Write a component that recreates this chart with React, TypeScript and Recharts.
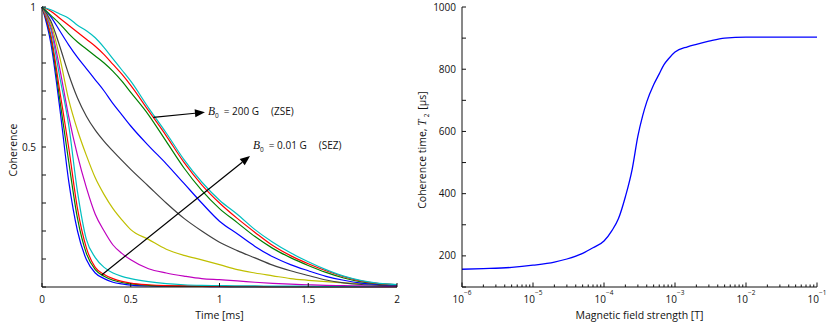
import React from "react";
import { LineChart, Line, XAxis, YAxis, ReferenceLine } from "recharts";

const FONT = "'Open Sans', 'DejaVu Sans', sans-serif";
const INK = "#111";

// ---- left panel: coherence vs time, one curve per field ----
const timeMs = [0, 0.05, 0.1, 0.15, 0.2, 0.25, 0.3, 0.35, 0.4, 0.45, 0.5, 0.6, 0.7, 0.8, 0.9, 1.0, 1.1, 1.2, 1.3, 1.4, 1.5, 1.6, 1.7, 1.8, 1.9, 2.0];

const cohBlue1 = [1, 0.87, 0.64, 0.38, 0.2, 0.098, 0.05, 0.03, 0.017, 0.011, 0.007, 0.004, 0.003, 0.002, 0.002, 0.001, 0.001, 0.001, 0.001, 0.001, 0.001, 0.001, 0.001, 0.001, 0.001, 0.001];
const cohGreen1 = [1, 0.89, 0.67, 0.45, 0.245, 0.12, 0.062, 0.038, 0.024, 0.016, 0.011, 0.006, 0.004, 0.003, 0.002, 0.002, 0.001, 0.001, 0.001, 0.001, 0.001, 0.001, 0.001, 0.001, 0.001, 0.001];
const cohRed1 = [1, 0.9, 0.7, 0.5, 0.28, 0.14, 0.07, 0.045, 0.03, 0.02, 0.014, 0.008, 0.005, 0.004, 0.003, 0.002, 0.002, 0.002, 0.001, 0.001, 0.001, 0.001, 0.001, 0.001, 0.001, 0.001];
const cohCyan1 = [1, 0.92, 0.75, 0.58, 0.34, 0.17, 0.105, 0.07, 0.05, 0.038, 0.03, 0.019, 0.012, 0.008, 0.006, 0.005, 0.004, 0.004, 0.003, 0.003, 0.003, 0.002, 0.002, 0.002, 0.002, 0.002];
const cohMagenta = [1, 0.93, 0.78, 0.61, 0.47, 0.355, 0.26, 0.2, 0.15, 0.12, 0.097, 0.065, 0.05, 0.039, 0.03, 0.026, 0.022, 0.017, 0.013, 0.01, 0.008, 0.006, 0.005, 0.004, 0.003, 0.002];
const cohYellow = [1, 0.94, 0.82, 0.67, 0.56, 0.47, 0.39, 0.33, 0.28, 0.24, 0.205, 0.17, 0.135, 0.113, 0.097, 0.08, 0.062, 0.05, 0.04, 0.03, 0.024, 0.019, 0.015, 0.012, 0.009, 0.007];
const cohGray = [1, 0.95, 0.86, 0.76, 0.675, 0.61, 0.56, 0.52, 0.485, 0.452, 0.42, 0.36, 0.3, 0.245, 0.2, 0.16, 0.13, 0.104, 0.078, 0.058, 0.041, 0.025, 0.015, 0.009, 0.006, 0.004];
const cohBlue2 = [1, 0.965, 0.915, 0.865, 0.82, 0.78, 0.74, 0.7, 0.655, 0.615, 0.575, 0.505, 0.44, 0.37, 0.3, 0.235, 0.19, 0.145, 0.108, 0.08, 0.058, 0.038, 0.024, 0.014, 0.009, 0.007];
const cohGreen2 = [1, 0.97, 0.94, 0.905, 0.875, 0.85, 0.825, 0.8, 0.77, 0.735, 0.695, 0.615, 0.52, 0.425, 0.345, 0.28, 0.23, 0.18, 0.138, 0.105, 0.077, 0.052, 0.032, 0.018, 0.011, 0.008];
const cohRed2 = [1, 0.985, 0.96, 0.935, 0.91, 0.885, 0.86, 0.83, 0.795, 0.76, 0.72, 0.63, 0.54, 0.445, 0.365, 0.3, 0.245, 0.195, 0.148, 0.112, 0.083, 0.058, 0.037, 0.021, 0.012, 0.008];
const cohCyan2 = [1, 0.99, 0.975, 0.96, 0.935, 0.915, 0.89, 0.855, 0.815, 0.775, 0.735, 0.64, 0.55, 0.455, 0.375, 0.31, 0.26, 0.205, 0.16, 0.122, 0.09, 0.062, 0.039, 0.023, 0.013, 0.009];

const decaySeries = [
  { key: "b1", color: "#0000ff", values: cohBlue1 },
  { key: "g1", color: "#008000", values: cohGreen1 },
  { key: "r1", color: "#ff0000", values: cohRed1 },
  { key: "c1", color: "#00bfbf", values: cohCyan1 },
  { key: "m", color: "#bf00bf", values: cohMagenta },
  { key: "y", color: "#bfbf00", values: cohYellow },
  { key: "k", color: "#404040", values: cohGray },
  { key: "b2", color: "#0000ff", values: cohBlue2 },
  { key: "g2", color: "#008000", values: cohGreen2 },
  { key: "r2", color: "#ff0000", values: cohRed2 },
  { key: "c2", color: "#00bfbf", values: cohCyan2 },
];

const timeTicks = [0, 0.5, 1, 1.5, 2];
const cohTicks = [0, 0.1, 0.2, 0.3, 0.4, 0.5, 0.6, 0.7, 0.8, 0.9, 1];
const cohTickLabels = [0.5, 1];

// ---- right panel: T2 vs magnetic field ----
const fieldT = [1e-6, 2e-6, 5e-6, 1e-5, 2e-5, 3e-5, 5e-5, 7e-5, 1e-4, 1.3e-4, 1.6e-4, 2e-4, 2.5e-4, 3e-4, 3.5e-4, 4e-4, 5e-4, 6e-4, 7e-4, 8e-4, 1e-3, 1.5e-3, 2e-3, 3e-3, 5e-3, 1e-2, 2e-2, 1e-1];
const t2us = [157, 159, 163, 170, 180, 190, 208, 226, 248, 282, 320, 390, 480, 585, 650, 695, 750, 785, 815, 832, 855, 872, 880, 890, 900, 903, 903, 903];

const decadeExps = [-6, -5, -4, -3, -2, -1];
const minorSteps = [1, 2, 3, 4, 5, 6, 7, 8, 9];
const t2Ticks = [100, 200, 300, 400, 500, 600, 700, 800, 900, 1000];
const t2TickLabels = [200, 400, 600, 800, 1000];

const decayRows = timeMs.map((t, i) => {
  const row: Record<string, number> = { t };
  decaySeries.forEach((s) => (row[s.key] = s.values[i]));
  return row;
});
const fieldRows = fieldT.map((b, i) => ({ b, t2: t2us[i] }));

const logTicks: number[] = [];
decadeExps.forEach((e) => {
  if (e === -1) logTicks.push(Math.pow(10, e));
  else minorSteps.forEach((m) => logTicks.push(m * Math.pow(10, e)));
});
const decadeOf = (v: number) => {
  const l = Math.log10(v);
  return Math.abs(l - Math.round(l)) < 1e-9 ? Math.round(l) : null;
};

type Side = "bottom" | "top" | "left" | "right";
const tickFn =
  (side: Side, labelFor: (v: number) => React.ReactNode, lenFor: (v: number) => number) =>
  (props: any) => {
    const { x, y, payload } = props;
    const v = payload.value as number;
    const l = lenFor(v);
    const p =
      side === "bottom" ? [x, y, x, y - l] : side === "top" ? [x, y, x, y + l] : side === "left" ? [x, y, x + l, y] : [x, y, x - l, y];
    const lab = labelFor(v);
    return (
      <g>
        <line x1={p[0]} y1={p[1]} x2={p[2]} y2={p[3]} stroke={INK} strokeWidth={1} />
        {lab != null && side === "bottom" && (
          <text x={x} y={y + 16} textAnchor="middle" fontFamily={FONT} fontSize={10} fill={INK}>
            {lab}
          </text>
        )}
        {lab != null && side === "left" && (
          <text x={x - 6} y={y + 3.5} textAnchor="end" fontFamily={FONT} fontSize={10} fill={INK}>
            {lab}
          </text>
        )}
      </g>
    );
  };

const none = () => null;
const four = () => 4;

const xTitle = (text: React.ReactNode) => (p: any) => {
  const vb = p.viewBox;
  return (
    <text x={vb.x + vb.width / 2} y={vb.y + 32} textAnchor="middle" fontFamily={FONT} fontSize={10.5} fill={INK}>
      {text}
    </text>
  );
};
const yTitle = (text: React.ReactNode, dx: number) => (p: any) => {
  const vb = p.viewBox;
  const cx = vb.x + dx;
  const cy = vb.y + vb.height / 2 + 3;
  return (
    <text x={cx} y={cy} textAnchor="middle" transform={`rotate(-90, ${cx}, ${cy})`} fontFamily={FONT} fontSize={10.5} fill={INK}>
      {text}
    </text>
  );
};

const arrow = (label: (x: number, y: number) => React.ReactNode) => (p: any) => {
  const { x1, y1, x2, y2 } = p;
  const a = Math.atan2(y2 - y1, x2 - x1);
  const L = 10;
  const W = 4;
  const bx = x2 - L * Math.cos(a);
  const by = y2 - L * Math.sin(a);
  const pts = [
    [x2, y2],
    [bx + W * Math.sin(a), by - W * Math.cos(a)],
    [bx - W * Math.sin(a), by + W * Math.cos(a)],
  ]
    .map((q) => q.join(","))
    .join(" ");
  return (
    <g>
      <line x1={x1} y1={y1} x2={bx} y2={by} stroke="#000" strokeWidth={1.2} />
      <polygon points={pts} fill="#000" />
      {label(x2, y2)}
    </g>
  );
};

const fieldLabel = (value: string, tag: string, dy: number) => (x: number, y: number) => (
  <text x={x + 3} y={y + dy} fontFamily={FONT} fontSize={10} fill={INK}>
    <tspan fontFamily="'Liberation Serif', serif" fontStyle="italic" fontSize={11.5}>
      B
    </tspan>
    <tspan fontSize={6.5} dy={3}>
      0
    </tspan>
    <tspan dy={-3} dx={5}>
      = {value} G
    </tspan>
    <tspan dx={12}>{tag}</tspan>
  </text>
);

function DecayPanel() {
  return (
    <LineChart width={420} height={328} data={decayRows} margin={{ top: 7, right: 23, bottom: 16, left: 0 }}>
      <XAxis
        xAxisId="b"
        dataKey="t"
        type="number"
        domain={[0, 2]}
        ticks={timeTicks}
        interval={0}
        tickSize={0}
        tickMargin={0}
        height={25}
        tickLine={false}
        axisLine={{ stroke: INK }}
        tick={tickFn("bottom", (v) => String(v), four)}
        label={{ content: xTitle("Time [ms]") }}
      />
      <XAxis
        xAxisId="t"
        orientation="top"
        dataKey="t"
        type="number"
        domain={[0, 2]}
        ticks={timeTicks}
        interval={0}
        tickSize={0}
        tickMargin={0}
        height={0}
        tickLine={false}
        axisLine={{ stroke: INK }}
        tick={tickFn("top", none, four)}
      />
      <YAxis
        yAxisId="l"
        type="number"
        domain={[0, 1]}
        ticks={cohTicks}
        interval={0}
        tickSize={0}
        tickMargin={0}
        width={42}
        tickLine={false}
        axisLine={{ stroke: INK }}
        tick={tickFn("left", (v) => (cohTickLabels.includes(v) ? String(v) : null), four)}
        label={{ content: yTitle("Coherence", 17) }}
      />
      <YAxis
        yAxisId="r"
        orientation="right"
        type="number"
        domain={[0, 1]}
        ticks={cohTicks}
        interval={0}
        tickSize={0}
        tickMargin={0}
        width={0}
        tickLine={false}
        axisLine={{ stroke: INK }}
        tick={tickFn("right", none, four)}
      />
      {decaySeries.map((s) => (
        <Line
          key={s.key}
          xAxisId="b"
          yAxisId="l"
          dataKey={s.key}
          type="monotone"
          stroke={s.color}
          strokeWidth={1.2}
          dot={false}
          isAnimationActive={false}
        />
      ))}
      <ReferenceLine
        xAxisId="b"
        yAxisId="l"
        segment={[
          { x: 0.627, y: 0.606 },
          { x: 0.918, y: 0.624 },
        ]}
        shape={arrow(fieldLabel("200", "(ZSE)", 2.5))}
      />
      <ReferenceLine
        xAxisId="b"
        yAxisId="l"
        segment={[
          { x: 0.336, y: 0.043 },
          { x: 1.172, y: 0.468 },
        ]}
        shape={arrow(fieldLabel("0.01", "(SEZ)", -6.5))}
      />
    </LineChart>
  );
}

const logLabel = (v: number) => {
  const e = decadeOf(v);
  if (e === null) return null;
  return (
    <>
      <tspan>10</tspan>
      <tspan dy={-8} fontSize={6.5}>
        {"\u2212" + Math.abs(e)}
      </tspan>
    </>
  );
};
const logLen = (v: number) => (decadeOf(v) === null ? 2.5 : 4.5);

function FieldPanel() {
  return (
    <LineChart width={430} height={328} data={fieldRows} margin={{ top: 7, right: 13, bottom: 16, left: 20 }}>
      <XAxis
        xAxisId="b"
        dataKey="b"
        type="number"
        scale="log"
        domain={[1e-6, 1e-1]}
        allowDataOverflow
        ticks={logTicks}
        interval={0}
        tickSize={0}
        tickMargin={0}
        height={25}
        tickLine={false}
        axisLine={{ stroke: INK }}
        tick={tickFn("bottom", logLabel, logLen)}
        label={{ content: xTitle("Magnetic field strength [T]") }}
      />
      <XAxis
        xAxisId="t"
        orientation="top"
        dataKey="b"
        type="number"
        scale="log"
        domain={[1e-6, 1e-1]}
        allowDataOverflow
        ticks={logTicks}
        interval={0}
        tickSize={0}
        tickMargin={0}
        height={0}
        tickLine={false}
        axisLine={{ stroke: INK }}
        tick={tickFn("top", none, logLen)}
      />
      <YAxis
        yAxisId="l"
        type="number"
        domain={[100, 1000]}
        ticks={t2Ticks}
        interval={0}
        tickSize={0}
        tickMargin={0}
        width={42}
        tickLine={false}
        axisLine={{ stroke: INK }}
        tick={tickFn("left", (v) => (t2TickLabels.includes(v) ? String(v) : null), four)}
        label={{
          content: yTitle(
            <>
              <tspan>Coherence time, </tspan>
              <tspan fontFamily="'Liberation Serif', serif" fontStyle="italic" fontSize={11.5}>
                T
              </tspan>
              <tspan fontSize={6.5} dy={3} dx={2}>
                2
              </tspan>
              <tspan dy={-3} dx={4}>
                [µs]
              </tspan>
            </>,
            6
          ),
        }}
      />
      <YAxis
        yAxisId="r"
        orientation="right"
        type="number"
        domain={[100, 1000]}
        ticks={t2Ticks}
        interval={0}
        tickSize={0}
        tickMargin={0}
        width={0}
        tickLine={false}
        axisLine={{ stroke: INK }}
        tick={tickFn("right", none, four)}
      />
      <Line
        xAxisId="b"
        yAxisId="l"
        dataKey="t2"
        type="monotone"
        stroke="#0000ff"
        strokeWidth={1.3}
        dot={false}
        isAnimationActive={false}
      />
    </LineChart>
  );
}

export default function App() {
  return (
    <div style={{ position: "absolute", left: 0, top: 0, width: 830, height: 328, background: "#fff" }}>
      <div style={{ position: "absolute", left: 0, top: 0 }}>
        <DecayPanel />
      </div>
      <div style={{ position: "absolute", left: 400, top: 0 }}>
        <FieldPanel />
      </div>
    </div>
  );
}
